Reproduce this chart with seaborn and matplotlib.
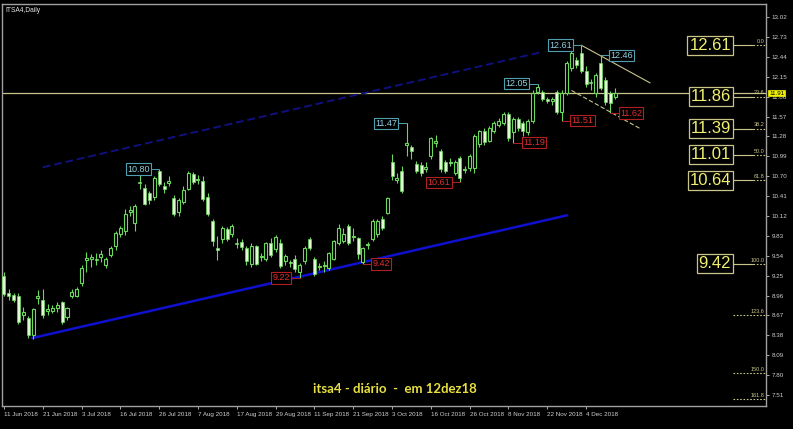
import matplotlib
matplotlib.use("Agg")
import matplotlib.pyplot as plt
import matplotlib.transforms as mtransforms
import numpy as np
import pandas as pd
import seaborn as sns

# Daily OHLC for ITSA4, 11 Jun 2018 -> 12 Dec 2018
opens = [9.24, 8.99, 8.97, 8.96, 8.68, 8.64, 8.38, 8.92, 8.90, 8.74,
         8.74, 8.78, 8.86, 8.65, 8.96, 8.96, 9.14, 9.48, 9.49, 9.50,
         9.52, 9.40, 9.55, 9.68, 9.86, 9.90, 10.18, 10.02, 10.62, 10.53,
         10.45, 10.39, 10.77, 10.56, 10.60, 10.38, 10.18, 10.33, 10.52, 10.73,
         10.64, 10.63, 10.40, 10.05, 9.65, 9.78, 9.93, 9.85, 9.73, 9.74,
         9.65, 9.42, 9.68, 9.52, 9.49, 9.72, 9.64, 9.72, 9.46, 9.45,
         9.49, 9.30, 9.46, 9.78, 9.49, 9.37, 9.39, 9.36, 9.50, 9.72,
         9.76, 9.97, 9.81, 9.80, 9.45, 9.69, 9.78, 9.85, 10.07, 10.17,
         10.90, 10.65, 10.78, 11.16, 11.12, 10.88, 10.86, 10.81, 11.00, 11.18,
         11.07, 10.90, 10.89, 10.75, 10.97, 10.79, 10.82, 10.82, 11.17, 11.36,
         11.22, 11.36, 11.45, 11.47, 11.61, 11.34, 11.54, 11.47, 11.34, 11.51,
         11.93, 11.92, 11.82, 11.80, 11.92, 11.63, 11.91, 12.27, 12.39, 12.50,
         12.24, 12.08, 11.91, 12.35, 12.10, 11.91, 11.86]
highs = [9.30, 9.05, 9.00, 9.00, 8.80, 8.66, 8.78, 9.04, 9.06, 8.84,
         8.82, 8.86, 8.88, 8.80, 9.05, 9.08, 9.40, 9.60, 9.56, 9.58,
         9.62, 9.52, 9.68, 9.90, 9.98, 10.22, 10.26, 10.29, 10.72, 10.58,
         10.48, 10.71, 10.80, 10.62, 10.70, 10.42, 10.38, 10.55, 10.78, 10.76,
         10.72, 10.70, 10.45, 10.08, 9.83, 9.98, 9.96, 10.00, 9.80, 9.78,
         9.68, 9.72, 9.70, 9.58, 9.74, 9.80, 9.84, 9.78, 9.56, 9.48,
         9.55, 9.44, 9.68, 9.82, 9.52, 9.43, 9.46, 9.60, 9.77, 10.00,
         9.95, 10.00, 9.95, 9.82, 9.67, 9.74, 10.07, 10.08, 10.12, 10.40,
         11.03, 10.75, 10.85, 11.47, 11.16, 10.92, 10.90, 10.90, 11.27, 11.30,
         11.10, 10.93, 10.96, 10.93, 10.99, 10.85, 11.03, 11.32, 11.38, 11.40,
         11.43, 11.50, 11.55, 11.64, 11.63, 11.56, 11.57, 11.50, 11.53, 11.95,
         12.05, 11.95, 11.86, 11.85, 11.95, 11.96, 12.38, 12.55, 12.44, 12.61,
         12.30, 12.12, 12.20, 12.46, 12.14, 11.94, 11.98]
lows = [8.95, 8.90, 8.86, 8.55, 8.60, 8.34, 8.33, 8.84, 8.64, 8.68,
        8.70, 8.72, 8.55, 8.60, 8.93, 8.94, 9.10, 9.30, 9.38, 9.40,
        9.45, 9.36, 9.52, 9.62, 9.82, 9.84, 10.12, 9.90, 10.52, 10.28,
        10.30, 10.36, 10.55, 10.45, 10.55, 10.12, 10.12, 10.30, 10.50, 10.58,
        10.58, 10.34, 10.12, 9.68, 9.48, 9.72, 9.75, 9.82, 9.66, 9.62,
        9.40, 9.38, 9.40, 9.47, 9.46, 9.52, 9.60, 9.36, 9.40, 9.38,
        9.30, 9.22, 9.42, 9.62, 9.25, 9.33, 9.30, 9.33, 9.48, 9.70,
        9.72, 9.70, 9.75, 9.50, 9.42, 9.64, 9.75, 9.82, 9.92, 10.15,
        10.65, 10.60, 10.45, 11.00, 10.95, 10.74, 10.70, 10.76, 10.95, 11.12,
        10.76, 10.74, 10.85, 10.72, 10.61, 10.75, 10.78, 10.75, 11.12, 11.15,
        11.20, 11.33, 11.42, 11.44, 11.22, 11.19, 11.36, 11.28, 11.30, 11.48,
        11.90, 11.80, 11.76, 11.74, 11.60, 11.51, 11.88, 12.24, 12.28, 12.20,
        12.00, 11.95, 11.86, 11.95, 11.74, 11.62, 11.82]
closes = [8.98, 8.96, 8.90, 8.58, 8.72, 8.38, 8.76, 8.96, 8.68, 8.77,
          8.78, 8.82, 8.58, 8.78, 9.01, 9.06, 9.36, 9.51, 9.52, 9.48,
          9.57, 9.50, 9.66, 9.87, 9.95, 10.15, 10.20, 10.27, 10.60, 10.30,
          10.35, 10.68, 10.59, 10.52, 10.63, 10.15, 10.35, 10.50, 10.75, 10.62,
          10.66, 10.37, 10.15, 9.75, 9.62, 9.95, 9.78, 9.97, 9.71, 9.67,
          9.46, 9.68, 9.42, 9.54, 9.72, 9.55, 9.82, 9.39, 9.53, 9.43,
          9.35, 9.40, 9.65, 9.66, 9.28, 9.39, 9.41, 9.58, 9.75, 9.95,
          9.85, 9.72, 9.83, 9.56, 9.65, 9.71, 10.05, 10.05, 9.95, 10.38,
          10.70, 10.67, 10.49, 11.18, 11.06, 10.78, 10.75, 10.83, 11.25, 11.22,
          10.80, 10.78, 10.91, 10.90, 10.68, 10.81, 11.00, 11.29, 11.36, 11.20,
          11.40, 11.48, 11.50, 11.61, 11.26, 11.54, 11.40, 11.36, 11.50, 11.91,
          12.00, 11.83, 11.80, 11.82, 11.63, 11.91, 12.35, 12.49, 12.32, 12.24,
          12.05, 12.06, 12.17, 11.98, 11.78, 11.76, 11.91]

date_labels = ["11 Jun 2018", "21 Jun 2018", "3 Jul 2018", "16 Jul 2018",
               "26 Jul 2018", "7 Aug 2018", "17 Aug 2018", "29 Aug 2018",
               "11 Sep 2018", "21 Sep 2018", "3 Oct 2018", "16 Oct 2018",
               "26 Oct 2018", "8 Nov 2018", "22 Nov 2018", "4 Dec 2018"]
date_bars = [0, 8, 16, 24, 32, 40, 48, 56, 64, 72, 80, 88, 96, 104, 112, 120]

price_ticks = [13.02, 12.73, 12.44, 12.15, 11.86, 11.57, 11.28, 10.99, 10.70,
               10.41, 10.12, 9.83, 9.54, 9.25, 8.96, 8.67, 8.38, 8.09, 7.80, 7.51]
last_price = 11.91

# swing high / low labels: (value, bar index, side of box)
high_vals = [10.80, 11.47, 12.05, 12.61, 12.46]
high_bars = [32, 83, 110, 119, 123]
high_side = ["left", "left", "left", "left", "right"]
low_vals = [9.22, 9.42, 10.61, 11.19, 11.51, 11.62]
low_bars = [61, 74, 94, 105, 115, 125]
low_side = ["left", "right", "left", "right", "right", "right"]

# fibonacci retracement 12.61 -> 9.42
fib_pcts = ["0.0", "23.6", "38.2", "50.0", "61.8", "100.0", "123.6", "150.0", "161.8"]
fib_prices = [12.61, 11.86, 11.39, 11.01, 10.64, 9.42, 8.67, 7.83, 7.45]
fib_boxed = 6

# trend channels: (bar, price) anchors
up_low_x, up_low_y = [5.8, 116.1], [8.34, 10.13]
up_high_x, up_high_y = [8.0, 110.9], [10.83, 12.51]
dn_high_x, dn_high_y = [119.0, 133.2], [12.61, 12.06]
dn_low_x, dn_low_y = [117.0, 131.0], [11.95, 11.40]

sns.set_theme(style="dark", rc={
    "axes.facecolor": "#000000",
    "figure.facecolor": "#000000",
    "axes.edgecolor": "#a0a0a0",
    "axes.grid": False,
})
plt.rcParams["font.family"] = ["Liberation Sans", "DejaVu Sans"]

fig = plt.figure(figsize=(7.93, 4.29), dpi=100)
ax = fig.add_axes([2 / 793, 23 / 429, 764 / 793, 402 / 429])

GREEN = "#6ad85a"
BEAR_FILL = "#e0f8d4"
KHAKI = "#c8c48a"

df = pd.DataFrame({"o": opens, "h": highs, "l": lows, "c": closes})
df["i"] = np.arange(len(df))
bull = df["c"] >= df["o"]

# wicks then bodies
ax.vlines(df["i"], df["l"], df["h"], color=GREEN, linewidth=0.8, zorder=3)
body_lo = np.minimum(df["o"], df["c"])
body_h = np.maximum((df["c"] - df["o"]).abs(), 0.015)
ax.bar(df["i"][bull], body_h[bull], bottom=body_lo[bull], width=0.62,
       color="#000000", edgecolor=GREEN, linewidth=0.8, zorder=4)
ax.bar(df["i"][~bull], body_h[~bull], bottom=body_lo[~bull], width=0.62,
       color=BEAR_FILL, edgecolor=GREEN, linewidth=0.5, zorder=4)

# current price line
ax.axhline(last_price, color=KHAKI, linewidth=0.9, zorder=2)

# channels
sns.lineplot(x=up_low_x, y=up_low_y, ax=ax, color="#1010d0", linewidth=1.8, zorder=2)
sns.lineplot(x=up_high_x, y=up_high_y, ax=ax, color="#101080", linewidth=1.4,
             linestyle=(0, (4, 2)), zorder=2)
sns.lineplot(x=dn_high_x, y=dn_high_y, ax=ax, color=KHAKI, linewidth=0.8, zorder=2)
sns.lineplot(x=dn_low_x, y=dn_low_y, ax=ax, color=KHAKI, linewidth=0.8,
             linestyle=(0, (4, 2)), zorder=2)


def swing_label(val, bar, side, txt_color, edge_color):
    gap = 2.0
    x = bar - gap if side == "left" else bar + gap
    ax.plot([x, bar], [val, val], color=edge_color, linewidth=0.7, zorder=5)
    ax.text(x, val, f"{val:.2f}", ha="right" if side == "left" else "left",
            va="center", fontsize=6.5, color=txt_color, zorder=6,
            bbox=dict(boxstyle="square,pad=0.15", fc="#000000", ec=edge_color, lw=0.8))


for v, b, s in zip(high_vals, high_bars, high_side):
    swing_label(v, b, s, "#8fd0e0", "#4f9fb0")
for v, b, s in zip(low_vals, low_bars, low_side):
    swing_label(v, b, s, "#e03030", "#b02020")

# fibonacci levels on the right
for k, (pct, price) in enumerate(zip(fib_pcts, fib_prices)):
    ax.plot([150.3, 157.2], [price, price], color=KHAKI, linewidth=0.8,
            linestyle=(0, (1.5, 1.5)), zorder=2)
    ax.text(156.8, price + 0.02, pct, ha="right", va="bottom", fontsize=4,
            color=KHAKI, zorder=6)
    if k < fib_boxed:
        ax.plot([149.9, 154.5], [price, price], color=KHAKI, linewidth=0.8, zorder=2)
        ax.text(149.9, price, f"{price:.2f}", ha="right", va="center",
                fontsize=12, color="#f0f070", zorder=6,
                bbox=dict(boxstyle="square,pad=0.12", fc="#000000", ec=KHAKI, lw=0.9))

ax.set_xlim(-0.4, 157.1)
ax.set_ylim(7.35, 13.21)

ax.yaxis.tick_right()
ax.set_yticks(price_ticks)
ax.set_yticklabels([f"{p:.2f}" for p in price_ticks])
ax.set_xticks(date_bars)
ax.set_xticklabels(date_labels, ha="left")
ax.tick_params(axis="both", colors="#c8c8c8", labelsize=4.5, length=2.5,
               width=0.6, pad=1.5, direction="out", bottom=True, right=True)
ax.tick_params(axis="y", labelcolor="#d0d0d0")
ax.tick_params(axis="x", labelcolor="#d0d0d0")
for sp in ax.spines.values():
    sp.set_color("#a0a0a0")
    sp.set_linewidth(1.0)

# current price marker on the price scale
trans = mtransforms.blended_transform_factory(ax.transAxes, ax.transData)
ax.text(1.004, last_price, f"{last_price:.2f}", transform=trans, ha="left",
        va="center", fontsize=4.5, color="#000000", zorder=7, clip_on=False,
        bbox=dict(boxstyle="square,pad=0.1", fc="#f0f000", ec="#f0f000", lw=0.5))

ax.text(0.004, 0.993, "ITSA4,Daily", transform=ax.transAxes, ha="left", va="top",
        fontsize=4.8, color="#e8e8e8")
ax.text(0.514, 0.042, "itsa4 - diário  -  em 12dez18", transform=ax.transAxes,
        ha="center", va="center", fontsize=9.5, fontweight="bold",
        color="#e8e040", family=["Lato", "DejaVu Sans"])

ax.set_xlabel("")
ax.set_ylabel("")
fig.savefig("out.png", dpi=100, facecolor="#000000")
